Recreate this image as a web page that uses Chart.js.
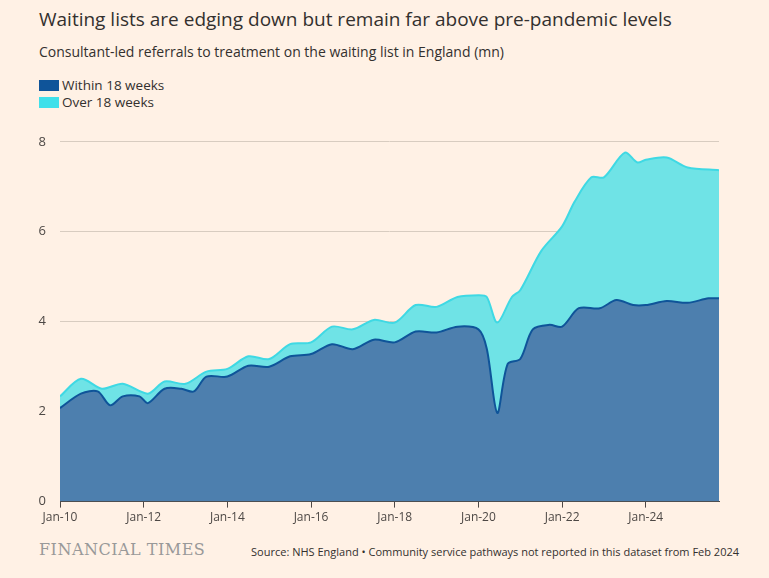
<!DOCTYPE html>
<html><head><meta charset="utf-8">
<script src="https://cdn.jsdelivr.net/npm/chart.js@4"></script>
<style>
body{margin:0;background:#fff1e5;font-family:"Open Sans",sans-serif;width:769px;height:578px;position:relative;overflow:hidden}
.t{position:absolute;left:39px;top:6px;font-size:19px;color:#33302e}
.s{position:absolute;left:39px;top:42px;font-size:14px;color:#33302e}
.lg{position:absolute;left:39px;font-size:13.5px;color:#33302e}
.lg i{display:inline-block;width:20px;height:11px;margin-right:3px;vertical-align:-1px}
.ft{position:absolute;left:39px;top:540px;font-family:"DejaVu Serif",serif;font-size:16px;color:#999;letter-spacing:.5px}
.src{position:absolute;right:30px;top:544px;font-size:11px;color:#33302e}
#w{position:absolute;left:0;top:120px;width:769px;height:412px}
</style></head><body>
<div class="t">Waiting lists are edging down but remain far above pre-pandemic levels</div>
<div class="s">Consultant-led referrals to treatment on the waiting list in England (mn)</div>
<div class="lg" style="top:76px"><i style="background:#0f5499"></i>Within 18 weeks</div>
<div class="lg" style="top:93px"><i style="background:#3fe0ea"></i>Over 18 weeks</div>
<div id="w"><canvas id="c"></canvas></div>
<div class="ft">FINANCIAL TIMES</div>
<div class="src">Source: NHS England • Community service pathways not reported in this dataset from Feb 2024</div>
<script>
const withinX = [2010.0,2010.5,2010.9,2011.2,2011.5,2011.9,2012.1,2012.5,2012.9,2013.2,2013.5,2014.0,2014.5,2015.0,2015.5,2016.0,2016.5,2017.0,2017.5,2018.0,2018.5,2019.0,2019.5,2020.0,2020.2,2020.45,2020.7,2021.0,2021.3,2021.7,2022.0,2022.4,2022.9,2023.3,2023.7,2024.0,2024.5,2025.0,2025.5,2025.75];
const withinY = [2.08,2.4,2.45,2.14,2.34,2.34,2.19,2.51,2.51,2.45,2.78,2.78,3.02,3.0,3.23,3.28,3.5,3.39,3.6,3.54,3.78,3.76,3.89,3.83,3.4,1.97,3.06,3.17,3.83,3.93,3.89,4.3,4.3,4.48,4.37,4.37,4.46,4.42,4.52,4.52];
const totalX = [2010.0,2010.5,2011.0,2011.5,2012.1,2012.5,2013.0,2013.5,2014.0,2014.5,2015.0,2015.5,2016.0,2016.5,2017.0,2017.5,2018.0,2018.5,2019.0,2019.5,2020.0,2020.2,2020.45,2020.8,2021.0,2021.5,2022.0,2022.3,2022.7,2023.0,2023.5,2023.8,2024.0,2024.5,2025.0,2025.75];
const totalY = [2.34,2.73,2.51,2.62,2.4,2.67,2.62,2.89,2.95,3.23,3.17,3.5,3.54,3.89,3.83,4.04,3.98,4.37,4.33,4.55,4.59,4.55,3.98,4.55,4.7,5.57,6.12,6.67,7.21,7.21,7.76,7.54,7.6,7.65,7.43,7.37];
const tickYears = [2010,2012,2014,2016,2018,2020,2022,2024];

const pts = (xs, ys) => xs.map((x, i) => ({x, y: ys[i]}));
new Chart(document.getElementById('c'), {
  type: 'line',
  data: {datasets: [
    {data: pts(withinX, withinY), borderColor: '#0f5499', borderWidth: 2, backgroundColor: '#4d7fae', fill: 'origin', pointRadius: 0, tension: 0.3},
    {data: pts(totalX, totalY), borderColor: '#3fd9e4', borderWidth: 2, backgroundColor: '#6fe3e6', fill: '-1', pointRadius: 0, tension: 0.3}
  ]},
  options: {
    responsive: true, maintainAspectRatio: false, animation: false,
    layout: {padding: {top: 10, right: 50, bottom: 4}},
    plugins: {legend: {display: false}, tooltip: {enabled: false}},
    scales: {
      x: {type: 'linear', min: 2010, max: 2025.75,
        afterBuildTicks: s => { s.ticks = tickYears.map(v => ({value: v})); },
        ticks: {color: '#4d4845', font: {size: 12, family: 'Open Sans'}, maxRotation: 0,
          callback: v => 'Jan-' + String(v).slice(2)},
        grid: {drawOnChartArea: false, color: '#4d4845', tickLength: 6},
        border: {color: '#4d4845'}},
      y: {min: 0, max: 8,
        afterFit: s => { s.width = 60; },
        ticks: {stepSize: 2, color: '#4d4845', font: {size: 13, family: 'Open Sans'}, padding: 14},
        grid: {color: '#d8ccc0', drawTicks: false}, border: {display: false}}
    }
  }
});
</script>
</body></html>
